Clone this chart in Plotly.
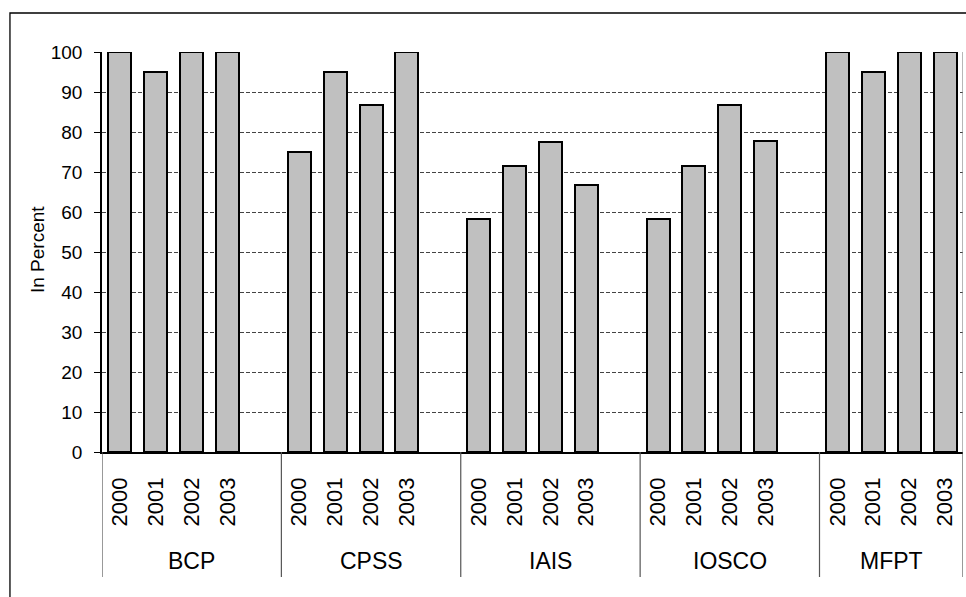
import plotly.graph_objects as go

groups = ["BCP", "CPSS", "IAIS", "IOSCO", "MFPT"]
years = ["2000", "2001", "2002", "2003"]
values = {
    "BCP": [100, 95, 100, 100],
    "CPSS": [75, 95, 86.7, 100],
    "IAIS": [58.3, 71.4, 77.5, 66.7],
    "IOSCO": [58.3, 71.4, 86.7, 77.8],
    "MFPT": [100, 95, 100, 100],
}
y_ticks = [0, 10, 20, 30, 40, 50, 60, 70, 80, 90, 100]

FONT = "Arial, Liberation Sans, sans-serif"
SLOT = 5  # 4 years + one blank slot between groups

xs, ys, labels = [], [], []
for g, name in enumerate(groups):
    for i, yr in enumerate(years):
        xs.append(g * SLOT + i)
        ys.append(values[name][i])
        labels.append(yr)

n_cat = (len(groups) - 1) * SLOT + len(years)

fig = go.Figure(go.Bar(
    x=xs, y=ys, width=0.64,
    marker=dict(color="#C0C0C0", line=dict(color="black", width=2)),
    hoverinfo="x+y",
))

shapes = []
annotations = []
bounds = [g * SLOT - 0.5 for g in range(len(groups))] + [n_cat - 0.5]
for b in bounds:
    shapes.append(dict(type="line", xref="x", yref="paper", x0=b, x1=b,
                       y0=0, y1=-0.3125, line=dict(color="#555555", width=1.2)))
# right edge of plot area
shapes.append(dict(type="line", xref="x", yref="paper", x0=n_cat - 0.5, x1=n_cat - 0.5,
                   y0=0, y1=1, line=dict(color="#888888", width=1.2)))
for g, name in enumerate(groups):
    left = bounds[g]
    right = bounds[g + 1]
    annotations.append(dict(x=(left + right) / 2, y=-0.2725, xref="x", yref="paper",
                            text=name, showarrow=False, yanchor="middle",
                            font=dict(family=FONT, size=23, color="black")))
# outer chart border
shapes.append(dict(type="rect", xref="paper", yref="paper",
                   x0=-0.1069, x1=1.02, y0=-0.5, y1=1.0975,
                   line=dict(color="black", width=1.3), fillcolor="rgba(0,0,0,0)"))

annotations.append(dict(x=0, y=0.505, xref="paper", yref="paper", xshift=-65,
                        text="In Percent", showarrow=False, textangle=-90,
                        xanchor="center", yanchor="middle",
                        font=dict(family=FONT, size=19, color="black")))

fig.update_layout(
    width=966, height=597,
    margin=dict(l=102, r=3, t=52, b=145),
    paper_bgcolor="white", plot_bgcolor="white",
    showlegend=False,
    shapes=shapes, annotations=annotations,
    font=dict(family=FONT, color="black"),
    xaxis=dict(
        range=[-0.5, n_cat - 0.5],
        tickmode="array", tickvals=xs, ticktext=labels,
        tickangle=-90, ticks="", ticklabelstandoff=15,
        tickfont=dict(family=FONT, size=22, color="black"),
        showgrid=False, zeroline=False,
        showline=True, linecolor="black", linewidth=1.5,
    ),
    yaxis=dict(
        range=[0, 100],
        tickmode="array", tickvals=y_ticks,
        ticks="outside", ticklen=6, tickcolor="black", tickwidth=1,
        ticklabelstandoff=8,
        tickfont=dict(family=FONT, size=19, color="black"),
        showgrid=True, gridcolor="#444444", griddash="4px,2px", gridwidth=1,
        zeroline=False,
        showline=True, linecolor="black", linewidth=1.5,
    ),
    bargap=0,
)

fig.write_html("out.html", config={"displayModeBar": False},
               post_script="document.body.style.margin='0';document.body.style.overflow='hidden';")
